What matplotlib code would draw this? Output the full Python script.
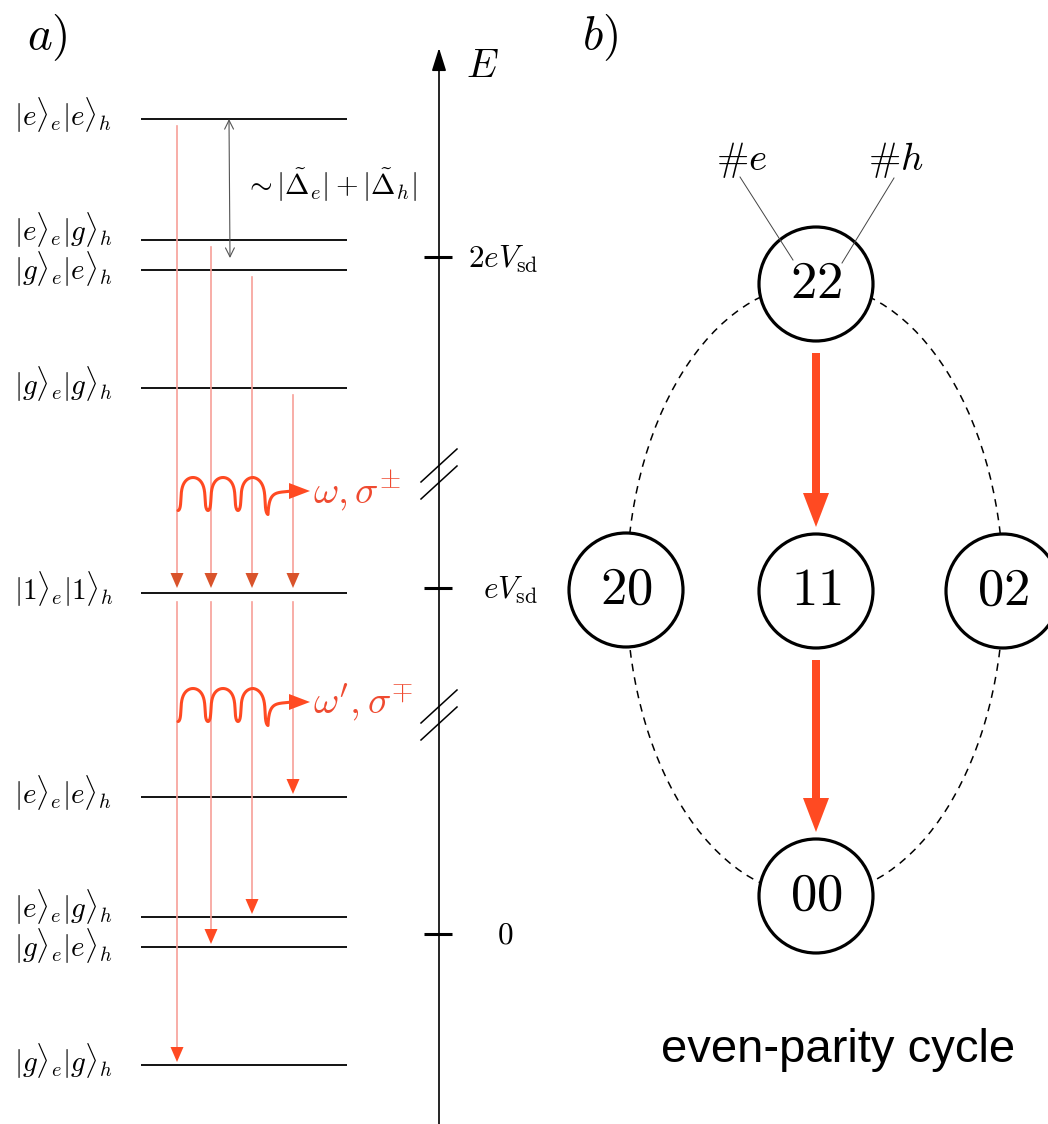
import numpy as np
import matplotlib
matplotlib.use('Agg')
from matplotlib import pyplot as plt
from matplotlib.patches import Circle, Ellipse, FancyArrow, Polygon

matplotlib.rcParams['mathtext.fontset'] = 'cm'
matplotlib.rcParams['font.family'] = ['Liberation Sans', 'DejaVu Sans']

# 能级 (像素坐标, y 向下)
state_labels = [r'$|e\rangle_e|e\rangle_h$', r'$|e\rangle_e|g\rangle_h$',
                r'$|g\rangle_e|e\rangle_h$', r'$|g\rangle_e|g\rangle_h$',
                r'$|1\rangle_e|1\rangle_h$',
                r'$|e\rangle_e|e\rangle_h$', r'$|e\rangle_e|g\rangle_h$',
                r'$|g\rangle_e|e\rangle_h$', r'$|g\rangle_e|g\rangle_h$']
level_y = [119, 240, 270, 388, 593, 797, 917, 947, 1065]
label_shift = [0, -6, 3, 0, 0, 0, -6, 3, 0]

# 跃迁: 起始能级 -> |1>|1> -> 终止能级
trans_x = [177, 211, 252, 293]
trans_start = [0, 1, 2, 3]
trans_mid = 4
trans_end = [8, 7, 6, 5]

# 能量轴刻度
tick_y = [257, 588, 934]
tick_labels = [r'$2eV_{\mathrm{sd}}$', r'$eV_{\mathrm{sd}}$', r'$0$']
tick_label_x = [468, 483, 497]
break_y = [474, 715]

# 光子
photon_y = [494, 705]
photon_labels = [r'$\omega,\sigma^{\pm}$', r"$\omega',\sigma^{\mp}$"]

# b) 电荷态
node_labels = ['22', '20', '11', '02', '00']
node_x = [816, 626, 816, 1003, 816]
node_y = [284, 590, 591, 591, 896]
cycle_arrows = [(0, 2), (2, 4)]
count_labels = ['e', 'h']
count_x = [716, 868]

RED = '#ff4a22'
LIGHT_RED = '#f7a098'
DARK_RED = '#d9532b'

fig = plt.figure(figsize=(10.48, 11.24), dpi=100)
ax = fig.add_axes([0, 0, 1, 1])
ax.set_xlim(0, 1048)
ax.set_ylim(1124, 0)
ax.axis('off')

# ---------- a) ----------
ax.text(27, 38, r'$a)$', fontsize=34, va='center', ha='left')

for y, lab, sh in zip(level_y, state_labels, label_shift):
    ax.plot([141, 347], [y, y], color='black', lw=1.3, solid_capstyle='butt')
    ax.text(14, y - 4 + sh, lab, fontsize=21, va='center', ha='left')


def head(x, tip, color, L=15, W=6.5):
    ax.add_patch(Polygon([[x - W, tip - L], [x + W, tip - L], [x, tip]],
                         closed=True, fc=color, ec='none', zorder=4))


for x, s, e in zip(trans_x, trans_start, trans_end):
    ym = level_y[trans_mid]
    ax.plot([x, x], [level_y[s] + 7, ym - 12], color=LIGHT_RED, lw=1.2, zorder=2)
    head(x, ym - 5, DARK_RED)
    ax.plot([x, x], [ym + 9, level_y[e] - 12], color=LIGHT_RED, lw=1.2, zorder=2)
    head(x, level_y[e] - 3, RED)

# 间隔箭头
ax.annotate('', xy=(229, level_y[0]), xytext=(230, 258),
            arrowprops=dict(arrowstyle='<->', color='#555555', lw=0.8,
                            shrinkA=0, shrinkB=0, mutation_scale=16))
ax.text(244, 185, r'$\sim|\tilde{\Delta}_e|+|\tilde{\Delta}_h|$', fontsize=21,
        va='center', ha='left')

# 能量轴
ax.annotate('', xy=(439, 48), xytext=(439, 1124),
            arrowprops=dict(arrowstyle='-|>,head_length=0.7,head_width=0.22',
                            color='black', lw=1.2, shrinkA=0, shrinkB=0,
                            mutation_scale=20))
ax.text(466, 66, r'$E$', fontsize=29, va='center', ha='left')
for y, lab, lx in zip(tick_y, tick_labels, tick_label_x):
    ax.plot([424, 452], [y, y], color='black', lw=2.2, solid_capstyle='butt')
    ax.text(lx, y + 2, lab, fontsize=22.5, va='center', ha='left')
for yb in break_y:
    for off in (-8.5, 8.5):
        ax.plot([439 - 18, 439 + 18], [yb + off + 16.5, yb + off - 16.5],
                color='black', lw=1.1)

# 光子波浪线
a_w, r_w, x0 = 4.775, 16.5, 178
t = np.linspace(0, 6 * np.pi, 600)
for yc, lab in zip(photon_y, photon_labels):
    wx = x0 + a_w * (t - 0.9 * np.sin(t) + 0.35 * np.sin(2 * t))
    wy = yc + r_w * np.cos(t)
    xe, ye = wx[-1], wy[-1] + 4
    wy[-100:] += np.linspace(0, 4, 100)
    s = np.linspace(0, 1, 60)[:, None]
    P = np.array([[xe, ye], [xe + 1, yc - 4], [xe + 8, yc - 1], [xe + 24, yc - 3]])
    bz = ((1 - s) ** 3 * P[0] + 3 * (1 - s) ** 2 * s * P[1]
          + 3 * (1 - s) * s ** 2 * P[2] + s ** 3 * P[3])
    ax.plot(np.r_[wx, bz[:, 0]], np.r_[wy, bz[:, 1]], color=RED, lw=2.2,
            solid_capstyle='round', zorder=5)
    tip_x = xe + 42
    ax.add_patch(Polygon([[xe + 21, yc - 11], [xe + 21, yc + 5], [tip_x, yc - 3]],
                         closed=True, fc=RED, ec='none', zorder=5))
    ax.text(tip_x + 3, yc - 3, lab, fontsize=28, color='#ef4a30',
            va='center', ha='left')

# ---------- b) ----------
ax.text(582, 38, r'$b)$', fontsize=34, va='center', ha='left')

ax.add_patch(Ellipse((815, 590), node_x[3] - node_x[1], node_y[4] - node_y[0],
                     fill=False, ec='black', lw=1.1, ls=(0, (5, 4)), zorder=1))

for lab, x, y in zip(node_labels, node_x, node_y):
    ax.add_patch(Circle((x, y), 57, fc='white', ec='black', lw=2.3, zorder=3))
    ax.text(x, y, '$' + lab + '$', fontsize=38, ha='center', va='center', zorder=4)

for i, j in cycle_arrows:
    y1 = node_y[i] + 69
    y2 = node_y[j] - 64
    ax.add_patch(FancyArrow(node_x[i], y1, 0, y2 - y1, width=8, head_width=26,
                            head_length=34, length_includes_head=True,
                            fc=RED, ec='none', zorder=4))

for lab, x in zip(count_labels, count_x):
    ax.text(x, 160, '#$' + lab + '$', family='cmr10', fontsize=28,
            va='center', ha='left')
ax.plot([740, 793], [177, 260], color='#444444', lw=0.7, zorder=5)
ax.plot([894, 842], [178, 263], color='#444444', lw=0.7, zorder=5)

ax.text(838, 1050, 'even-parity cycle', fontsize=34, ha='center', va='center')

fig.savefig('out.png', dpi=100)
